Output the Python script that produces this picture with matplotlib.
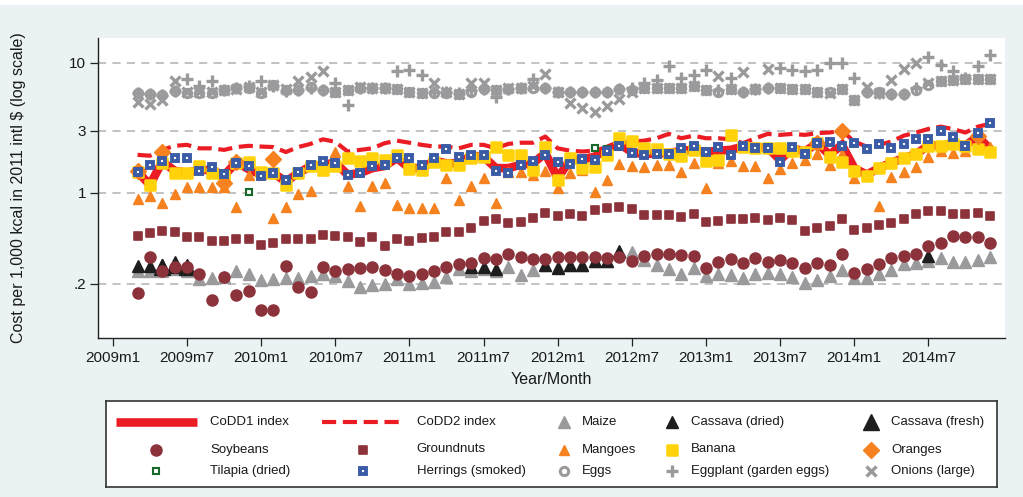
import numpy as np
import pandas as pd
import matplotlib
matplotlib.use("Agg")
import matplotlib.pyplot as plt
from matplotlib.patches import Rectangle
from matplotlib.markers import MarkerStyle

plt.rcParams['font.family'] = ['Liberation Sans', 'DejaVu Sans']

nan = np.nan
# months 2009m3 .. 2014m12
periods = pd.period_range('2009-03', '2014-12', freq='M')
month_idx = np.array([(p.year - 2009) * 12 + (p.month - 1) for p in periods])

tick_idx = list(range(0, 72, 6))
tick_labels = ["2009m1", "2009m7", "2010m1", "2010m7", "2011m1", "2011m7",
               "2012m1", "2012m7", "2013m1", "2013m7", "2014m1", "2014m7"]
ytick_vals = [0.2, 1, 3, 10]
ytick_labels = [".2", "1", "3", "10"]

codd1 = [1.46, 1.15, 1.74, 1.48, 1.43, 1.50, 1.50, 1.36, 1.72, 1.52,
         1.38, 1.42, 1.22, 1.42, 1.60, 1.64, 1.71, 1.38, 1.42, 1.55,
         1.61, 1.85, 1.55, 1.55, 1.76, 1.69, 1.69, 1.93, 1.90, 1.55,
         1.55, 1.64, 1.69, 2.02, 1.30, 1.79, 1.80, 1.90, 2.17, 2.38,
         2.06, 1.98, 2.02, 2.02, 2.11, 2.14, 2.06, 2.11, 2.14, 2.27,
         2.25, 2.23, 1.79, 2.20, 2.08, 2.41, 1.96, 2.34, 1.55, 1.38,
         1.55, 1.71, 1.85, 1.99, 2.31, 2.31, 2.38, 2.31, 2.71, 2.17]
codd2 = [1.96, 1.93, 2.14, 2.30, 2.34, 2.20, 2.20, 2.14, 2.25, 2.30,
         2.27, 2.25, 2.06, 2.25, 2.38, 2.58, 2.47, 2.08, 2.14, 2.20,
         2.41, 2.52, 2.43, 2.34, 2.27, 2.27, 2.20, 2.34, 2.34, 2.20,
         2.38, 2.43, 2.43, 2.71, 2.20, 2.11, 2.08, 2.11, 2.25, 2.41,
         2.48, 2.52, 2.63, 2.84, 2.63, 2.75, 2.63, 2.63, 2.58, 2.41,
         2.63, 2.84, 2.79, 2.84, 2.79, 2.88, 2.91, 3.01, 2.48, 2.27,
         2.34, 2.48, 2.75, 2.91, 3.10, 3.23, 3.09, 2.91, 3.23, 3.39]
maize = [0.25, 0.25, 0.25, 0.26, 0.25, 0.216, 0.22, 0.226, 0.25, 0.24,
         0.214, 0.218, 0.223, 0.22, 0.23, 0.237, 0.228, 0.21, 0.19, 0.195,
         0.20, 0.216, 0.20, 0.203, 0.205, 0.227, 0.26, 0.25, 0.26, 0.25,
         0.27, 0.233, 0.256, 0.28, 0.27, 0.28, 0.28, 0.30, 0.30, 0.35,
         0.35, 0.305, 0.28, 0.26, 0.24, 0.264, 0.228, 0.24, 0.235, 0.22,
         0.24, 0.243, 0.237, 0.226, 0.203, 0.213, 0.228, 0.256, 0.22, 0.223,
         0.24, 0.255, 0.286, 0.29, 0.30, 0.315, 0.293, 0.293, 0.305, 0.32]
cassava_dried = [0.275, 0.275, 0.28, 0.27, 0.275, nan, nan, nan, nan, nan,
                 nan, nan, nan, nan, nan, nan, nan, nan, nan, nan,
                 nan, nan, nan, nan, nan, nan, nan, 0.27, 0.27, 0.26,
                 nan, nan, nan, 0.28, 0.264, 0.28, 0.28, 0.30, 0.30, 0.36,
                 nan, nan, nan, nan, nan, nan, nan, nan, nan, nan,
                 nan, nan, nan, nan, nan, nan, nan, nan, nan, nan,
                 nan, nan, nan, nan, 0.325, nan, nan, nan, nan, nan]
cassava_fresh = [nan, nan, 0.27, 0.285, 0.27] + [nan] * 65
soybeans = [0.17, 0.32, 0.25, 0.27, 0.27, 0.24, 0.15, 0.225, 0.165, 0.175,
            0.127, 0.127, 0.276, 0.19, 0.172, 0.27, 0.25, 0.26, 0.265, 0.27,
            0.257, 0.237, 0.23, 0.237, 0.25, 0.27, 0.284, 0.29, 0.316, 0.31,
            0.34, 0.32, 0.31, 0.313, 0.32, 0.32, 0.32, 0.32, 0.316, 0.32,
            0.30, 0.33, 0.34, 0.34, 0.333, 0.33, 0.266, 0.295, 0.31, 0.29,
            0.316, 0.296, 0.306, 0.288, 0.266, 0.29, 0.278, 0.34, 0.243, 0.26,
            0.286, 0.318, 0.33, 0.337, 0.39, 0.41, 0.47, 0.456, 0.456, 0.41]
groundnuts = [0.47, 0.49, 0.51, 0.50, 0.46, 0.46, 0.43, 0.43, 0.44, 0.44,
              0.40, 0.41, 0.44, 0.44, 0.44, 0.475, 0.47, 0.46, 0.42, 0.46,
              0.39, 0.445, 0.43, 0.45, 0.46, 0.50, 0.50, 0.54, 0.61, 0.63,
              0.585, 0.595, 0.64, 0.70, 0.67, 0.69, 0.67, 0.735, 0.77, 0.78,
              0.75, 0.68, 0.68, 0.68, 0.65, 0.69, 0.60, 0.61, 0.63, 0.63,
              0.645, 0.62, 0.645, 0.62, 0.51, 0.54, 0.56, 0.63, 0.52, 0.54,
              0.57, 0.59, 0.63, 0.685, 0.72, 0.73, 0.685, 0.69, 0.70, 0.67]
mangoes = [0.90, 0.95, 0.83, 0.98, 1.11, 1.11, 1.11, 1.11, 0.78, 1.38,
           1.40, 0.64, 0.785, 0.98, 1.04, 1.50, 2.08, 1.12, 0.79, 1.12,
           1.20, 0.80, 0.76, 0.76, 0.76, 1.31, 0.88, 1.12, 1.31, 0.83,
           1.45, 1.45, 1.38, 1.47, 1.10, 1.42, 1.50, 1.02, 1.26, 1.66,
           1.62, 1.57, 1.64, 1.64, 1.46, 1.69, 1.09, 1.70, 1.75, 1.62,
           1.62, 1.31, 1.52, 1.70, 1.80, 2.00, 1.64, 2.00, 1.31, 1.40,
           0.79, 1.33, 1.46, 1.59, 1.90, 2.10, 2.04, 2.10, 2.20, 2.27]
banana = [1.45, 1.15, 1.70, 1.43, 1.42, 1.60, 1.43, 1.35, 1.70, 1.74,
          1.45, 1.42, 1.15, 1.42, 1.62, 1.50, 1.61, 1.87, 1.76, 1.87,
          1.79, 1.94, 1.52, 1.50, 1.74, 1.64, 1.64, 1.87, 1.90, 2.27,
          1.94, 1.94, 1.50, 2.27, 1.26, 1.87, 1.54, 1.57, 1.96, 2.63,
          2.52, 2.20, 2.17, 2.00, 1.93, 2.14, 1.77, 1.79, 2.81, 2.27,
          2.23, 2.23, 2.23, 2.09, 2.08, 2.40, 1.90, 1.72, 1.48, 1.36,
          1.55, 1.69, 1.85, 1.98, 2.31, 2.31, 2.37, 2.31, 2.18, 2.07]
oranges = [1.48, nan, 2.08, nan, nan, nan, nan, 1.19, 1.72, nan,
           nan, 1.82, nan, nan, nan, nan, nan, nan, nan, nan,
           nan, nan, nan, nan, nan, nan, nan, nan, nan, nan,
           nan, nan, nan, nan, nan, nan, nan, nan, nan, nan,
           nan, nan, nan, nan, nan, nan, nan, nan, nan, nan,
           nan, nan, nan, nan, nan, 2.41, nan, 3.00, nan, nan,
           nan, nan, nan, nan, nan, nan, nan, nan, 2.75, nan]
tilapia = [nan] * 70
for _m, _v in [(11, 1.02), (39, 2.20), (40, 2.17), (41, 2.25), (53, 2.25), (56, 2.04), (57, 2.41)]:
    tilapia[_m - 2] = _v
herrings = [1.44, 1.64, 1.76, 1.84, 1.84, 1.48, 1.57, 1.39, 1.71, 1.60,
            1.35, 1.42, 1.25, 1.44, 1.63, 1.75, 1.71, 1.37, 1.42, 1.60,
            1.63, 1.84, 1.84, 1.65, 1.87, 2.17, 1.90, 1.95, 1.95, 1.48,
            1.42, 1.64, 1.75, 1.95, 1.72, 1.68, 1.83, 1.80, 2.10, 2.30,
            2.02, 1.94, 1.98, 2.00, 2.20, 2.30, 2.06, 2.27, 1.97, 2.31,
            2.22, 2.20, 1.73, 2.25, 2.00, 2.40, 2.45, 2.30, 2.41, 2.18,
            2.38, 2.20, 2.38, 2.58, 2.60, 3.01, 2.71, 2.31, 2.91, 3.43]
eggs = [5.86, 5.75, 5.67, 6.09, 5.86, 5.86, 5.86, 6.13, 6.38, 6.38,
        5.86, 6.77, 6.13, 6.20, 6.49, 6.20, 6.00, 6.13, 6.38, 6.38,
        6.38, 6.29, 5.91, 5.86, 5.86, 5.86, 5.75, 6.00, 6.26, 6.20,
        6.26, 6.38, 6.38, 6.38, 6.00, 6.00, 6.00, 6.00, 6.00, 6.26,
        6.20, 6.38, 6.38, 6.38, 6.38, 6.66, 6.20, 6.00, 6.26, 5.91,
        6.26, 6.38, 6.38, 6.26, 6.26, 6.00, 5.91, 6.26, 5.19, 5.91,
        5.91, 5.78, 5.78, 6.20, 6.77, 7.30, 7.40, 7.53, 7.53, 7.53]
eggplant = [5.9, 5.8, 5.7, 6.1, 7.53, 6.66, 7.30, 6.2, 6.4, 6.6,
            7.2, 6.6, 6.1, 6.2, 6.4, 6.2, 6.97, 4.75, 6.4, 6.4,
            6.4, 8.6, 8.83, 8.1, 6.0, 6.0, 5.9, 6.2, 6.3, 5.5,
            6.3, 6.4, 7.5, 6.4, 6.0, 6.0, 6.0, 6.0, 6.0, 6.3,
            6.4, 7.0, 7.4, 9.48, 7.6, 8.09, 8.83, 6.2, 7.6, 6.0,
            6.3, 6.4, 9.1, 8.83, 8.68, 8.83, 9.95, 9.95, 7.6, 6.0,
            5.9, 5.8, 5.8, 6.4, 11.0, 9.55, 8.6, 7.6, 9.4, 11.5]
onions = [5.03, 4.8, 5.19, 7.2, 6.0, 6.0, 6.0, 6.2, 6.3, 6.5,
          6.0, 6.8, 6.3, 7.27, 7.76, 8.68, 6.0, 6.2, 6.5, 6.4,
          6.4, 6.3, 6.0, 5.9, 7.0, 6.0, 5.8, 6.97, 7.0, 6.2,
          6.45, 6.4, 6.6, 8.23, 6.0, 4.9, 4.48, 4.22, 4.67, 5.26,
          5.91, 6.4, 6.4, 6.4, 6.4, 6.6, 6.2, 7.92, 6.3, 8.5,
          6.3, 8.97, 6.4, 6.3, 6.3, 6.0, 5.9, 6.3, 5.2, 6.56,
          5.9, 7.4, 8.94, 9.95, 7.0, 7.3, 7.4, 7.5, 7.5, 7.5]

RED = "#EC1C24"
MAROON = "#8C323B"
GRAY = "#9A9A9C"
ORANGE = "#F5821F"
YELLOW = "#FFD20A"
BLUE = "#3A5BA6"
GREEN = "#16692B"
BLACK = "#1E1E1E"
BG = "#EAF2F3"

rsq = MarkerStyle('s', joinstyle='round')

series = [
    ("CoDD1 index", codd1, dict(ls='-', lw=6.2, color=RED, marker=None, solid_joinstyle='miter')),
    ("CoDD2 index", codd2, dict(ls=(0, (3.4, 1.6)), lw=3.0, color=RED, marker=None)),
    ("Maize", maize, dict(ls='none', marker='^', ms=9, color=GRAY, mec=GRAY)),
    ("Cassava (dried)", cassava_dried, dict(ls='none', marker='^', ms=8, color=BLACK, mec=BLACK)),
    ("Cassava (fresh)", cassava_fresh, dict(ls='none', marker='^', ms=12, color=BLACK, mec=BLACK)),
    ("Soybeans", soybeans, dict(ls='none', marker='o', ms=8, color=MAROON, mec=MAROON)),
    ("Groundnuts", groundnuts, dict(ls='none', marker=rsq, ms=5.4, color=MAROON, mec=MAROON, mew=1.2)),
    ("Mangoes", mangoes, dict(ls='none', marker='^', ms=7.3, color=ORANGE, mec=ORANGE)),
    ("Banana", banana, dict(ls='none', marker=rsq, ms=7.0, color=YELLOW, mec=YELLOW, mew=1.8)),
    ("Oranges", oranges, dict(ls='none', marker='D', ms=8, color=ORANGE, mec=ORANGE)),
    ("Tilapia (dried)", tilapia, dict(ls='none', marker='s', ms=4.4, mfc='white', mec=GREEN, mew=1.5)),
    ("Herrings (smoked)", herrings, dict(ls='none', marker='s', ms=4.3, mfc='white', mec=BLUE, mew=2.8)),
    ("Eggs", eggs, dict(ls='none', marker='o', ms=6.0, mfc='none', mec=GRAY, mew=2.2)),
    ("Eggplant (garden eggs)", eggplant, dict(ls='none', marker='+', ms=9, mec=GRAY, mew=2.4)),
    ("Onions (large)", onions, dict(ls='none', marker='x', ms=6.5, mec=GRAY, mew=2.4)),
]

fig = plt.figure(figsize=(10.23, 4.97), dpi=100)
fig.patch.set_facecolor(BG)
fig.patches.append(Rectangle((0, 1 - 5 / 497), 1, 5 / 497, transform=fig.transFigure,
                             facecolor='white', edgecolor='none', zorder=0))

W, H = 1023, 497
L, R, T, B = 98, 1005, 38, 338
ax = fig.add_axes([L / W, 1 - B / H, (R - L) / W, (B - T) / H])
ax.set_facecolor('white')

for i, (lab, vals, kw) in enumerate(series):
    ax.plot(month_idx, vals, label=lab, zorder=3 + i, **kw)

ax.set_yscale('log')
ax.set_ylim(0.0767, 15.5)
ax.set_xlim(-1.2, 72.2)
ax.set_yticks(ytick_vals)
ax.set_yticklabels(ytick_labels)
ax.yaxis.set_minor_locator(matplotlib.ticker.NullLocator())
ax.set_xticks(tick_idx)
ax.set_xticklabels(tick_labels)
for v in ytick_vals:
    ax.axhline(v, color='#BDBDBD', lw=1.3, ls=(0, (4.5, 3.5)), zorder=1)

for s in ['top', 'right']:
    ax.spines[s].set_visible(False)
for s in ['left', 'bottom']:
    ax.spines[s].set_linewidth(1.0)
    ax.spines[s].set_color('#222222')
ax.tick_params(axis='both', direction='out', length=5.5, width=0.9, color='#222222',
               labelsize=11, labelcolor='#1a1a1a')
ax.tick_params(axis='x', pad=4)
ax.tick_params(axis='y', pad=3)
ax.set_xlabel("Year/Month", fontsize=11.5, labelpad=5, color='#1a1a1a')
ax.set_ylabel("Cost per 1,000 kcal in 2011 intl \\$ (log scale)", fontsize=11.5, labelpad=31,
              color='#1a1a1a')

# legend box drawn in pixel coordinates of the reference
lx0, lx1, ly0, ly1 = 105.7, 996.7, 401, 486.7
lax = fig.add_axes([lx0 / W, 1 - ly1 / H, (lx1 - lx0) / W, (ly1 - ly0) / H])
lax.set_xlim(lx0, lx1)
lax.set_ylim(ly1, ly0)
lax.set_facecolor('white')
for s in lax.spines.values():
    s.set_linewidth(1.2)
    s.set_color('#333333')
lax.set_xticks([])
lax.set_yticks([])

rows = [422.3, 449.5, 470.8]
sym_x = [156, 362.7, 564, 671.7, 870.7]
txt_x = [210, 416.7, 582.3, 691, 891]
for i, (lab, vals, kw) in enumerate(series):
    r, c = divmod(i, 5)
    y = rows[r]
    kw2 = dict(kw)
    if kw2.get('marker') is None:
        xs = [115.7, 196.7] if c == 0 else [322, 403]
        kw2['dash_capstyle'] = 'butt'
        kw2['solid_capstyle'] = 'butt'
        lax.plot(xs, [y, y], **kw2)
    else:
        lax.plot([sym_x[c]], [y], **kw2)
    lax.text(txt_x[c], y, lab, fontsize=9.5, va='center', ha='left', color='#1a1a1a')

fig.savefig("out.png", dpi=100, facecolor=fig.get_facecolor())
